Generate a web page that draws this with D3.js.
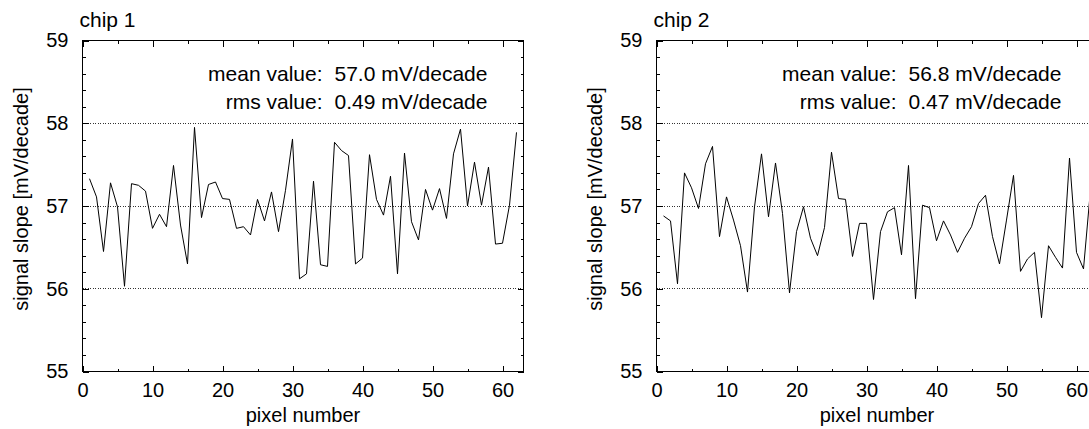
<!DOCTYPE html>
<meta charset="utf-8">
<style>
body {
  margin: 0;
  background: #fff;
}
svg {
  display: block;
  font-family: "Liberation Sans", Arial, Helvetica, sans-serif;
}
.axis path {
  display: none;
}
.axis line {
  stroke: #000;
  shape-rendering: crispEdges;
}
.axis text {
  font-size: 20px;
  fill: #000;
}
.frame {
  fill: none;
  stroke: #000;
  shape-rendering: crispEdges;
}
.grid line {
  stroke: #333;
  stroke-dasharray: 1,1.5;
  shape-rendering: crispEdges;
}
.path-line {
  fill: none;
  stroke: #000;
  stroke-width: 1px;
}
.label {
  font-size: 20px;
  fill: #000;
}
.note {
  font-size: 21px;
  fill: #000;
}
</style>
<body>
<div id="chart"></div>
<script src="https://d3js.org/d3.v7.min.js"></script>
<script>

// slope per pixel (pixel 1..62)
var chip1Slope = [57.33, 57.11, 56.45, 57.28, 56.99, 56.03, 57.27, 57.25, 57.18, 56.73,
                  56.90, 56.75, 57.49, 56.77, 56.30, 57.95, 56.86, 57.26, 57.29, 57.09,
                  57.08, 56.73, 56.75, 56.65, 57.08, 56.82, 57.17, 56.69, 57.19, 57.81,
                  56.12, 56.18, 57.30, 56.29, 56.27, 57.77, 57.67, 57.61, 56.30, 56.37,
                  57.62, 57.08, 56.89, 57.36, 56.18, 57.64, 56.81, 56.59, 57.20, 56.95,
                  57.21, 56.85, 57.63, 57.93, 57.00, 57.53, 57.01, 57.47, 56.54, 56.55,
                  57.01, 57.89];
var chip2Slope = [56.88, 56.82, 56.06, 57.40, 57.22, 56.97, 57.51, 57.72, 56.63, 57.11,
                  56.83, 56.52, 55.96, 56.99, 57.63, 56.87, 57.52, 56.91, 55.95, 56.69,
                  56.99, 56.61, 56.40, 56.74, 57.65, 57.09, 57.08, 56.39, 56.79, 56.79,
                  55.87, 56.69, 56.93, 56.98, 56.41, 57.49, 55.88, 57.01, 56.98, 56.58,
                  56.82, 56.65, 56.44, 56.61, 56.75, 57.03, 57.13, 56.63, 56.30, 56.83,
                  57.37, 56.21, 56.36, 56.44, 55.65, 56.52, 56.38, 56.25, 57.58, 56.44,
                  56.24, 57.20];

var chipNames = ["chip 1", "chip 2"];
var meanValues = ["57.0 mV/decade", "56.8 mV/decade"];
var rmsValues = ["0.49 mV/decade", "0.47 mV/decade"];

var xTickValues = [0, 10, 20, 30, 40, 50, 60];
var xMinorValues = [5, 15, 25, 35, 45, 55];
var yTickValues = [55, 56, 57, 58, 59];
var yGridValues = [56, 57, 58];

var xDomain = [0, 63];
var yDomain = [55, 59];

var svg = d3.select("#chart").append("svg")
    .attr("width", 1089)
    .attr("height", 429);

var plotTop = 40.5,
    plotW = 441,
    plotH = 331,
    panelLeft = [82.5, 656.5];

function drawPanel(idx, values) {
  var g = svg.append("g")
      .attr("transform", "translate(" + panelLeft[idx] + "," + plotTop + ")");

  var x = d3.scaleLinear().domain(xDomain).range([0, plotW]),
      y = d3.scaleLinear().domain(yDomain).range([plotH, 0]);

  var yMinor = [];
  yTickValues.slice(0, -1).forEach(function(v) {
    [0.2, 0.4, 0.6, 0.8].forEach(function(f) { yMinor.push(v + f); });
  });

  // dotted grid
  g.append("g").attr("class", "grid")
    .selectAll("line")
    .data(yGridValues)
    .enter().append("line")
    .attr("x1", 0)
    .attr("x2", plotW)
    .attr("y1", function(d) { return y(d); })
    .attr("y2", function(d) { return y(d); });

  // ticks point inwards on all four sides
  g.append("g").attr("class", "axis")
    .attr("transform", "translate(0," + plotH + ")")
    .call(d3.axisBottom(x).tickValues(xTickValues).tickSize(-6).tickPadding(11).tickFormat(d3.format("d")));
  g.append("g").attr("class", "axis")
    .attr("transform", "translate(0," + plotH + ")")
    .call(d3.axisBottom(x).tickValues(xMinorValues).tickSize(-3).tickFormat(""));
  g.append("g").attr("class", "axis")
    .call(d3.axisTop(x).tickValues(xTickValues).tickSize(-6).tickFormat(""));
  g.append("g").attr("class", "axis")
    .call(d3.axisTop(x).tickValues(xMinorValues).tickSize(-3).tickFormat(""));

  g.append("g").attr("class", "axis")
    .call(d3.axisLeft(y).tickValues(yTickValues).tickSize(-6).tickPadding(14).tickFormat(d3.format("d")));
  g.append("g").attr("class", "axis")
    .call(d3.axisLeft(y).tickValues(yMinor).tickSize(-3).tickFormat(""));
  g.append("g").attr("class", "axis")
    .attr("transform", "translate(" + plotW + ",0)")
    .call(d3.axisRight(y).tickValues(yTickValues).tickSize(-6).tickFormat(""));
  g.append("g").attr("class", "axis")
    .attr("transform", "translate(" + plotW + ",0)")
    .call(d3.axisRight(y).tickValues(yMinor).tickSize(-3).tickFormat(""));

  g.append("rect")
    .attr("class", "frame")
    .attr("width", plotW)
    .attr("height", plotH);

  var line = d3.line()
    .x(function(d, i) { return x(i + 1); })
    .y(function(d) { return y(d); });

  g.append("path")
    .datum(values)
    .attr("class", "path-line")
    .attr("d", line);

  // texts
  g.append("text")
    .attr("class", "note")
    .attr("x", -3)
    .attr("y", -13.5)
    .text(chipNames[idx]);

  g.append("text")
    .attr("class", "note")
    .attr("x", 240)
    .attr("y", 40.5)
    .style("text-anchor", "end")
    .text("mean value:");
  g.append("text")
    .attr("class", "note")
    .attr("x", 252)
    .attr("y", 40.5)
    .text(meanValues[idx]);
  g.append("text")
    .attr("class", "note")
    .attr("x", 240)
    .attr("y", 68)
    .style("text-anchor", "end")
    .text("rms value:");
  g.append("text")
    .attr("class", "note")
    .attr("x", 252)
    .attr("y", 68)
    .text(rmsValues[idx]);

  g.append("text")
    .attr("class", "label")
    .attr("x", plotW / 2)
    .attr("y", plotH + 50)
    .style("text-anchor", "middle")
    .text("pixel number");

  g.append("text")
    .attr("class", "label")
    .attr("transform", "translate(-55," + (plotH / 2 - 7) + ") rotate(-90)")
    .style("text-anchor", "middle")
    .text("signal slope [mV/decade]");
}

drawPanel(0, chip1Slope);
drawPanel(1, chip2Slope);

</script>
</body>
